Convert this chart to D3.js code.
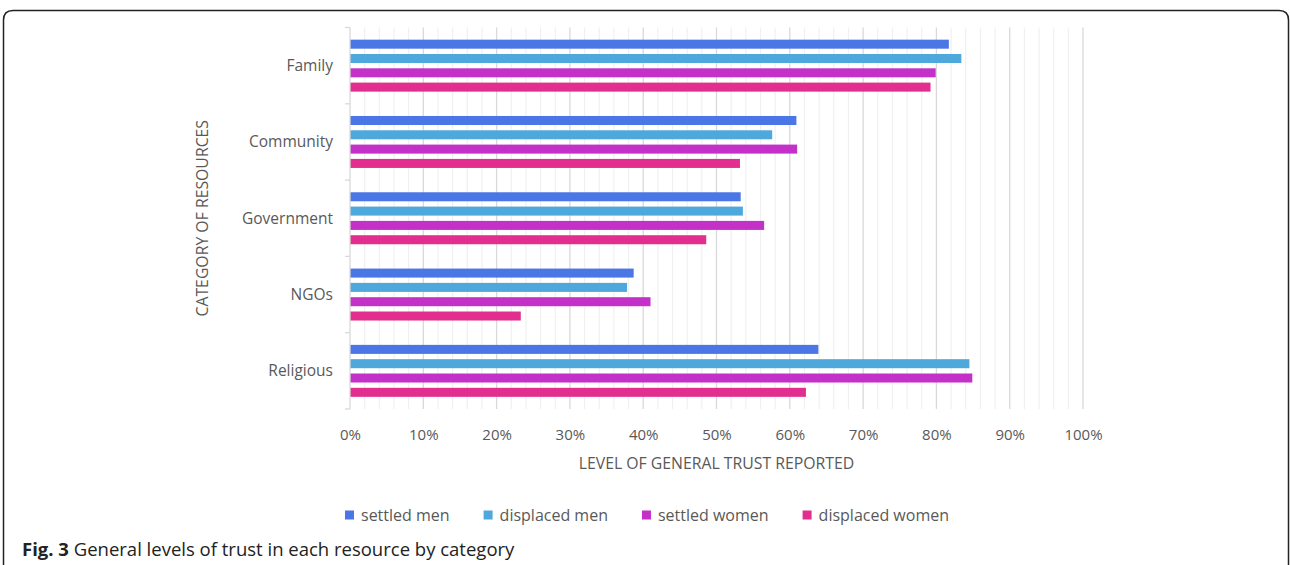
<!DOCTYPE html>
<html>
<head>
<meta charset="utf-8">
<script src="https://cdn.jsdelivr.net/npm/d3@7"></script>
<style>
  body { margin: 0; background: #fff; }
  svg text { font-family: "Open Sans", "Noto Sans", sans-serif; }
</style>
</head>
<body>
<div id="chart"></div>
<script>
var categories = ["Family", "Community", "Government", "NGOs", "Religious"];
var seriesNames = ["settled men", "displaced men", "settled women", "displaced women"];
var settledMen = [81.7, 60.9, 53.3, 38.7, 63.9];
var displacedMen = [83.4, 57.6, 53.6, 37.8, 84.5];
var settledWomen = [79.9, 61.0, 56.5, 41.0, 84.9];
var displacedWomen = [79.2, 53.2, 48.6, 23.3, 62.2];
var xTicks = [0, 10, 20, 30, 40, 50, 60, 70, 80, 90, 100];
var colors = ["#4a76e6", "#4fa8dc", "#c431c9", "#e22e8e"];

var seriesValues = [settledMen, displacedMen, settledWomen, displacedWomen];

var width = 1290,
    height = 565,
    plotLeft = 350,
    plotRight = 1083,
    plotTop = 27.5,
    plotBottom = 409,
    textColor = "#595959";

var svg = d3.select("#chart")
  .append("svg")
  .attr("width", width)
  .attr("height", height);

// frame around the figure
svg.append("path")
  .attr("d", "M3.5,570 V20 Q3.5,10.5 13,10.5 H1279 Q1288.5,10.5 1288.5,20 V570")
  .attr("fill", "none")
  .attr("stroke", "#222")
  .attr("stroke-width", 1.5);

var x = d3.scaleLinear().domain([0, 100]).range([plotLeft, plotRight]);
var y = d3.scaleBand().domain(categories).range([plotTop, plotBottom]).padding(0);
var ySub = d3.scaleBand().domain(seriesNames).range([0, y.bandwidth()])
  .paddingInner(0.37).paddingOuter(0.85);

// minor gridlines every 2%
svg.append("g")
  .selectAll("line")
  .data(d3.range(2, 101, 2).filter(function(d){ return d % 10 != 0; }))
  .enter().append("line")
  .attr("x1", function(d){ return x(d); })
  .attr("x2", function(d){ return x(d); })
  .attr("y1", plotTop)
  .attr("y2", plotBottom)
  .attr("stroke", "#f0f0f0")
  .attr("stroke-width", 1.2);

// major gridlines
svg.append("g")
  .selectAll("line")
  .data(xTicks.slice(1))
  .enter().append("line")
  .attr("x1", function(d){ return x(d); })
  .attr("x2", function(d){ return x(d); })
  .attr("y1", plotTop)
  .attr("y2", plotBottom)
  .attr("stroke", "#d9d9d9")
  .attr("stroke-width", 1.3);

// bars
var group = svg.append("g")
  .selectAll("g")
  .data(categories)
  .enter().append("g")
  .attr("transform", function(d){ return "translate(0," + y(d) + ")"; });

group.selectAll("rect")
  .data(function(d, i){
    return seriesNames.map(function(s, j){ return {name: s, value: seriesValues[j][i], k: j}; });
  })
  .enter().append("rect")
  .attr("x", x(0))
  .attr("y", function(d){ return ySub(d.name); })
  .attr("height", ySub.bandwidth())
  .attr("width", function(d){ return x(d.value) - x(0); })
  .attr("fill", function(d){ return colors[d.k]; });

// y axis line and boundary ticks
svg.append("line")
  .attr("x1", x(0)).attr("x2", x(0))
  .attr("y1", plotTop).attr("y2", plotBottom)
  .attr("stroke", "#d9d9d9")
  .attr("stroke-width", 1.3);

svg.append("g")
  .selectAll("line")
  .data(categories.map(function(c){ return y(c); }).concat([plotBottom]))
  .enter().append("line")
  .attr("x1", x(0) - 5).attr("x2", x(0))
  .attr("y1", function(d){ return d; })
  .attr("y2", function(d){ return d; })
  .attr("stroke", "#d9d9d9")
  .attr("stroke-width", 1.3);

// category labels
svg.append("g")
  .selectAll("text")
  .data(categories)
  .enter().append("text")
  .attr("x", x(0) - 17)
  .attr("y", function(d){ return y(d) + y.bandwidth() / 2; })
  .attr("dy", "0.35em")
  .attr("text-anchor", "end")
  .attr("font-size", 15.5)
  .attr("fill", textColor)
  .text(function(d){ return d; });

// x axis labels
var xAxis = d3.axisBottom(x)
  .tickValues(xTicks)
  .tickSize(0)
  .tickPadding(0)
  .tickFormat(function(d){ return d + "%"; });

var gx = svg.append("g")
  .attr("transform", "translate(0," + (plotBottom + 20) + ")")
  .call(xAxis);
gx.select(".domain").remove();
gx.selectAll("text")
  .attr("font-size", 15)
  .attr("font-family", "Open Sans, Noto Sans, sans-serif")
  .attr("fill", textColor);

// axis titles
svg.append("text")
  .attr("x", (x(0) + x(100)) / 2)
  .attr("y", 463)
  .attr("dy", "0.35em")
  .attr("text-anchor", "middle")
  .attr("font-size", 15.8)
  .attr("fill", textColor)
  .text("LEVEL OF GENERAL TRUST REPORTED");

svg.append("text")
  .attr("transform", "translate(202," + ((plotTop + plotBottom) / 2) + ") rotate(-90)")
  .attr("dy", "0.35em")
  .attr("text-anchor", "middle")
  .attr("font-size", 15.8)
  .attr("fill", textColor)
  .text("CATEGORY OF RESOURCES");

// legend
var legend = svg.append("g");
var item = legend.selectAll("g")
  .data(seriesNames)
  .enter().append("g");
item.append("rect")
  .attr("width", 9).attr("height", 9)
  .attr("y", -4.5)
  .attr("fill", function(d, i){ return colors[i]; });
item.append("text")
  .attr("x", 16)
  .attr("dy", "0.35em")
  .attr("font-size", 16)
  .attr("fill", textColor)
  .text(function(d){ return d; });

var pos = 0, offsets = [];
item.each(function(){
  offsets.push(pos);
  pos += this.getBBox().width + 34;
});
var legendWidth = pos - 34;
item.attr("transform", function(d, i){ return "translate(" + offsets[i] + ",0)"; });
legend.attr("transform", "translate(" + (647 - legendWidth / 2) + ",515)");

// caption
var caption = svg.append("text")
  .attr("x", 22)
  .attr("y", 550)
  .attr("dy", "0.35em")
  .attr("font-size", 18.5)
  .attr("fill", "#222");
caption.append("tspan").attr("font-weight", "bold").text("Fig. 3");
caption.append("tspan").text(" General levels of trust in each resource by category");
</script>
</body>
</html>
